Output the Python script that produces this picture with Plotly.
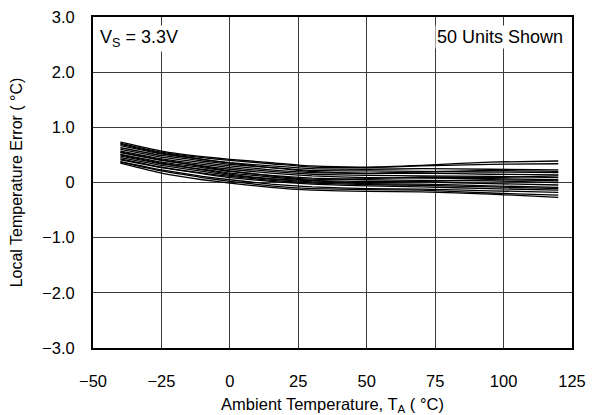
import plotly.graph_objects as go

# ambient temperature sample points (°C)
temps = [-40, -25, -10, 0, 15, 30, 50, 70, 95, 120]

# local temperature error (°C), one list per unit (subset of the 50 traces)
unit_errors = [
    [0.73, 0.57, 0.47, 0.42, 0.36, 0.30, 0.28, 0.31, 0.37, 0.39],
    [0.71, 0.55, 0.45, 0.40, 0.34, 0.28, 0.27, 0.30, 0.33, 0.34],
    [0.69, 0.53, 0.42, 0.35, 0.27, 0.20, 0.17, 0.19, 0.22, 0.20],
    [0.67, 0.52, 0.42, 0.36, 0.30, 0.25, 0.24, 0.25, 0.24, 0.23],
    [0.63, 0.49, 0.39, 0.33, 0.27, 0.22, 0.21, 0.20, 0.19, 0.18],
    [0.60, 0.46, 0.36, 0.30, 0.23, 0.18, 0.16, 0.17, 0.15, 0.14],
    [0.57, 0.43, 0.33, 0.27, 0.20, 0.15, 0.13, 0.12, 0.11, 0.09],
    [0.55, 0.41, 0.29, 0.21, 0.12, 0.06, 0.07, 0.10, 0.09, 0.12],
    [0.54, 0.40, 0.30, 0.24, 0.17, 0.12, 0.09, 0.08, 0.07, 0.05],
    [0.51, 0.37, 0.27, 0.20, 0.13, 0.08, 0.05, 0.04, 0.03, 0.00],
    [0.50, 0.35, 0.23, 0.15, 0.07, 0.03, 0.00, 0.02, 0.05, 0.03],
    [0.48, 0.34, 0.24, 0.17, 0.10, 0.04, 0.02, 0.01, -0.02, -0.045],
    [0.45, 0.31, 0.20, 0.13, 0.06, 0.01, -0.02, -0.03, -0.06, -0.09],
    [0.43, 0.28, 0.17, 0.11, 0.04, -0.01, -0.04, -0.05, -0.08, -0.11],
    [0.41, 0.27, 0.16, 0.09, 0.02, -0.03, -0.06, -0.08, -0.11, -0.14],
    [0.38, 0.23, 0.11, 0.05, -0.03, -0.08, -0.11, -0.12, -0.15, -0.18],
    [0.37, 0.21, 0.09, 0.02, -0.06, -0.11, -0.13, -0.14, -0.19, -0.23],
    [0.35, 0.17, 0.05, -0.01, -0.09, -0.14, -0.16, -0.17, -0.21, -0.27],
]

x_ticks = [-50, -25, 0, 25, 50, 75, 100, 125]
x_labels = ["\u221250", "\u221225", "0", "25", "50", "75", "100", "125"]
y_ticks = [-3, -2, -1, 0, 1, 2, 3]
y_labels = ["\u22123.0", "\u22122.0", "\u22121.0", "0", "1.0", "2.0", "3.0"]

FONT = "Liberation Sans, Arial, sans-serif"

fig = go.Figure()
for vals in unit_errors:
    fig.add_trace(go.Scatter(
        x=temps, y=vals, mode="lines",
        line=dict(color="black", width=1.3, shape="spline", smoothing=0.4),
        showlegend=False, hoverinfo="skip",
    ))

axis_common = dict(
    showline=True, linecolor="black", linewidth=2, mirror=True,
    showgrid=True, gridcolor="#3a3a3a", gridwidth=1,
    zeroline=False, ticks="", automargin=False,
    ticklabeloverflow="allow",
    tickfont=dict(size=16.5, color="black"),
)

fig.update_xaxes(
    range=[-50, 125], tickvals=x_ticks, ticktext=x_labels,
    ticklabelstandoff=17,
    title=dict(text="Ambient Temperature, T<sub>A</sub> ( °C)",
               font=dict(size=16.5, color="black"), standoff=18),
    **axis_common,
)
fig.update_yaxes(
    range=[-3, 3], tickvals=y_ticks, ticktext=y_labels,
    ticklabelstandoff=13,
    title=dict(text="Local Temperature Error ( °C)",
               font=dict(size=16, color="black"), standoff=16),
    **axis_common,
)

fig.add_annotation(
    x=0.01, y=0.975, xref="paper", yref="paper", xanchor="left", yanchor="top",
    text="V<sub>S</sub> = 3.3V", showarrow=False, bgcolor="white",
    font=dict(size=18, color="black", family=FONT),
)
fig.add_annotation(
    x=0.985, y=0.975, xref="paper", yref="paper", xanchor="right", yanchor="top",
    text="50 Units Shown", showarrow=False, bgcolor="white",
    font=dict(size=18, color="black", family=FONT),
)

# page body adds an 8px offset, so the figure is sized to fit the window
fig.update_layout(
    width=590, height=407,
    margin=dict(l=85, r=26, t=9, b=67),
    paper_bgcolor="white", plot_bgcolor="white",
    font=dict(family=FONT, size=16, color="black"),
)

fig.write_html("out.html")
